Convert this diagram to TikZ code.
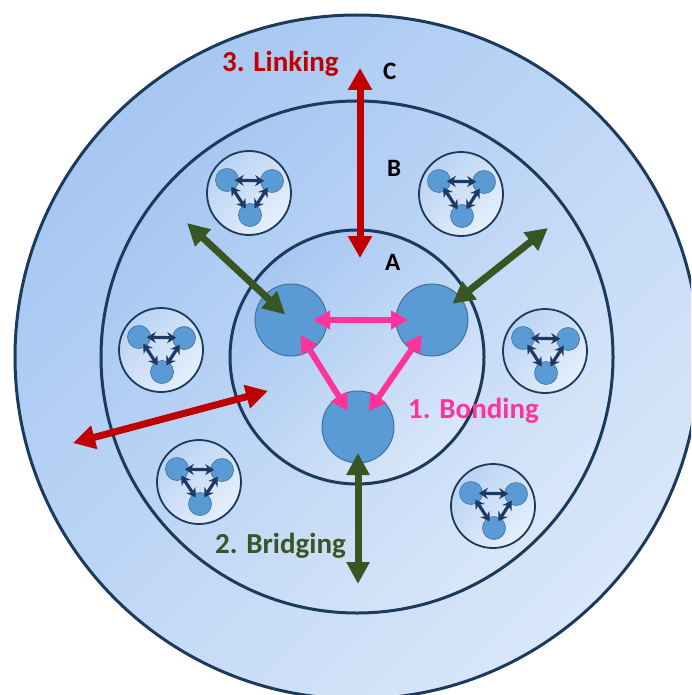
\documentclass[tikz,border=0pt]{standalone}
\usepackage{fontspec}
\setmainfont{Carlito}
\usetikzlibrary{arrows.meta}
\definecolor{ringline}{HTML}{1B3A5C}
\definecolor{ringdark}{HTML}{A6C7F2}
\definecolor{ringlight}{HTML}{D9E7F9}
\definecolor{nodefill}{HTML}{5B9BD5}
\definecolor{nodeline}{HTML}{41719C}
\definecolor{clusterdark}{HTML}{B9D3F3}
\definecolor{clusterlight}{HTML}{E6EFFB}
\definecolor{navyarrow}{HTML}{1F3864}
\definecolor{bondpink}{HTML}{FF3399}
\definecolor{bridgegreen}{HTML}{375623}
\definecolor{linkred}{HTML}{C00000}
\tikzset{
  ringcircle/.style={circle, draw=ringline, line width=3pt, top color=ringdark, bottom color=ringlight, shading angle=45, inner sep=0pt, minimum size=#1},
  bignode/.style={circle, draw=nodeline, line width=1pt, fill=nodefill, inner sep=0pt, minimum size=72pt},
  smallnode/.style={circle, draw=nodeline, line width=0.6pt, fill=nodefill, inner sep=0pt, minimum size=23pt},
  clustercircle/.style={circle, draw=ringline, line width=1.8pt, top color=clusterdark, bottom color=clusterlight, shading angle=45, inner sep=0pt, minimum size=84pt},
  smallarrow/.style={draw=navyarrow, line width=3.2pt, {Stealth[length=9pt,width=11pt]}-{Stealth[length=9pt,width=11pt]}, shorten <=-4pt, shorten >=-4pt},
  bondarrow/.style={draw=bondpink, line width=6pt, {Triangle[length=17pt,width=18pt]}-{Triangle[length=17pt,width=18pt]}},
  bridgearrow/.style={draw=bridgegreen, line width=7pt, {Triangle[length=22pt,width=22pt]}-{Triangle[length=22pt,width=22pt]}},
  linkarrow/.style={draw=linkred, line width=7pt, {Triangle[length=22pt,width=23pt]}-{Triangle[length=22pt,width=23pt]}},
  biglabel/.style={font=\bfseries\fontsize{29}{32}\selectfont, inner sep=0pt, anchor=base west},
  letterlabel/.style={font=\bfseries\fontsize{25}{27}\selectfont, inner sep=0pt, anchor=base west, text=black},
  cluster/.pic={
    \node[clustercircle] (-o) at (0,0) {};
    \node[smallnode] (-a) at (-22,-13) {};
    \node[smallnode] (-b) at (23,-12) {};
    \node[smallnode] (-c) at (1,22) {};
    \draw[smallarrow] (-a) -- (-b);
    \draw[smallarrow] (-a) -- (-c);
    \draw[smallarrow] (-b) -- (-c);
  }
}
\begin{document}
\begin{tikzpicture}[x=1pt,y=-1pt]
\useasboundingbox (0,0) rectangle (691,695);
\clip (0,0) rectangle (691,695);
\node[ringcircle=684pt] (ringC) at (357,357) {};
\node[ringcircle=512pt] (ringB) at (357,357) {};
\node[ringcircle=254pt] (ringA) at (357,357) {};

\pic (k1) at (249,193) {cluster};
\pic (k2) at (461,194) {cluster};
\pic (k3) at (161,350) {cluster};
\pic (k4) at (545,351) {cluster};
\pic (k5) at (199,482) {cluster};
\pic (k6) at (493,506) {cluster};

\node[bignode] (n1) at (291,320) {};
\node[bignode] (n2) at (432,320) {};
\node[bignode] (n3) at (358,427) {};

\draw[bondarrow, shorten <=22pt, shorten >=24pt] (n1.center) -- (n2.center);
\draw[bondarrow, shorten <=18pt, shorten >=19pt] (n1.center) -- (n3.center);
\draw[bondarrow, shorten <=18pt, shorten >=19pt] (n2.center) -- (n3.center);

\coordinate (g1) at (187,223);
\coordinate (g2) at (548,228);
\coordinate (g3) at (358,584);
\draw[bridgearrow, shorten >=8pt] (g1) -- (n1.center);
\draw[bridgearrow, shorten >=26pt] (g2) -- (n2.center);
\draw[bridgearrow, shorten >=26pt] (g3) -- (n3.center);

\coordinate (r1) at (360,68);
\coordinate (r2) at (360,258);
\coordinate (r3) at (73,443);
\coordinate (r4) at (268,391);
\draw[linkarrow] (r1) -- (r2);
\draw[linkarrow] (r3) -- (r4);

\node[biglabel, text=linkred] (lLink) at (222,72) {3. Linking};
\node[biglabel, text=bridgegreen] (lBridge) at (215,553) {2. Bridging};
\node[biglabel, text=bondpink] (lBond) at (408,418) {1. Bonding};
\node[letterlabel] (lC) at (383,80) {C};
\node[letterlabel] (lB) at (387,176) {B};
\node[letterlabel] (lA) at (385,270) {A};
\end{tikzpicture}
\end{document}
